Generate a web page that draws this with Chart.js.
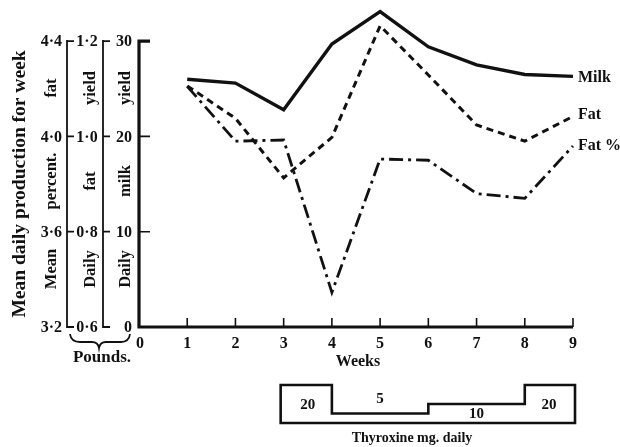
<!DOCTYPE html>
<html><head><meta charset="utf-8">
<script src="https://cdn.jsdelivr.net/npm/chart.js@4"></script>
<style>html,body{margin:0;padding:0;background:#fff}#wrap{width:620px;height:447px}</style>
</head><body><div id="wrap"><canvas id="c" width="620" height="447"></canvas></div>
<script>
const weeks=[1,2,3,4,5,6,7,8,9];
const milkYield=[26.0,25.6,22.8,29.7,33.1,29.4,27.5,26.5,26.3];
const fatYield=[1.106,1.038,0.913,0.998,1.232,1.129,1.024,0.99,1.042];
const fatPercent=[4.21,3.98,3.985,3.345,3.905,3.90,3.76,3.74,3.96];
const xTicks=[0,1,2,3,4,5,6,7,8,9];
const milkTicks=[0,10,20,30];
const fatTicks=[0.6,0.8,1.0,1.2];
const pctTicks=[3.2,3.6,4.0,4.4];
const thyroxineWeeks=[3,4,6,8,9];
const thyroxineDose=[20,5,10,20];
const seriesNames=['Milk','Fat','Fat %'];

const SERIF='"Liberation Serif","DejaVu Serif",serif';
const INK='#111';
const pts=(arr)=>weeks.map((w,i)=>({x:w,y:arr[i]}));
const fmt=(v)=>v.toFixed(1).replace('.','·');

const decor={
  id:'decor',
  beforeDatasetsDraw(chart){
    const ctx=chart.ctx, s=chart.scales;
    const x=s.x, ym=s.yMilk, yf=s.yFat, yp=s.yPct;
    ctx.save();
    ctx.strokeStyle=INK; ctx.lineCap='butt';
    const x0=x.getPixelForValue(0), y0=ym.getPixelForValue(0), yTop=ym.getPixelForValue(30);
    ctx.lineWidth=3.2;
    ctx.beginPath();
    ctx.moveTo(x0+11,yTop); ctx.lineTo(x0,yTop); ctx.lineTo(x0,y0); ctx.lineTo(x.getPixelForValue(9),y0);
    ctx.stroke();
    ctx.lineWidth=1.6;
    ctx.beginPath();
    milkTicks.forEach(v=>{ if(v>0&&v<30){const p=ym.getPixelForValue(v); ctx.moveTo(x0,p); ctx.lineTo(x0+11,p);} });
    xTicks.forEach(v=>{ if(v>0){const p=x.getPixelForValue(v); ctx.moveTo(p,y0); ctx.lineTo(p,y0-9);} });
    ctx.stroke();
    const axX=[67,103];
    ctx.lineWidth=1.8;
    axX.forEach(ax=>{
      ctx.beginPath();
      ctx.moveTo(ax,yTop-1); ctx.lineTo(ax,y0+1); ctx.stroke();
      ctx.beginPath();
      milkTicks.forEach(v=>{const p=ym.getPixelForValue(v); ctx.moveTo(ax,p); ctx.lineTo(ax+7,p);});
      ctx.stroke();
    });
    ctx.fillStyle=INK; ctx.font='bold 16px '+SERIF; ctx.textBaseline='middle';
    ctx.textAlign='right';
    pctTicks.forEach(v=>ctx.fillText(fmt(v),62,yp.getPixelForValue(v)+1));
    milkTicks.forEach(v=>ctx.fillText(String(v),132,ym.getPixelForValue(v)+1));
    ctx.textAlign='center';
    fatTicks.forEach(v=>ctx.fillText(fmt(v),87,yf.getPixelForValue(v)+1));
    xTicks.forEach(v=>ctx.fillText(String(v),x.getPixelForValue(v)+(v===0?1:0),y0+17));
    ctx.restore();
  },
  afterDraw(chart){
    const ctx=chart.ctx, s=chart.scales, x=s.x;
    ctx.save();
    ctx.fillStyle=INK; ctx.strokeStyle=INK;
    ctx.font='bold 16px '+SERIF; ctx.textAlign='left'; ctx.textBaseline='middle';
    const ends=[[s.yMilk,milkYield,1],[s.yFat,fatYield,-2],[s.yPct,fatPercent,0]];
    ends.forEach((e,i)=>{
      const last=weeks.length-1;
      ctx.fillText(seriesNames[i],x.getPixelForValue(weeks[last])+5,e[0].getPixelForValue(e[1][last])+e[2]);
    });
    const vtext=(t,cx,cy,font)=>{ctx.save();ctx.translate(cx,cy);ctx.rotate(-Math.PI/2);ctx.font=font;ctx.textAlign='center';ctx.textBaseline='middle';ctx.fillText(t,0,0);ctx.restore();};
    vtext('Mean daily production for week',20,184,'bold 19.5px '+SERIF);
    const cols=[[52,['fat','percent.','Mean']],[91,['yield','fat','Daily']],[126,['yield','milk','Daily']]];
    const rowsY=[88,181,269];
    cols.forEach(c=>c[1].forEach((w,i)=>vtext(w,c[0],rowsY[i],'bold 16.5px '+SERIF)));
    ctx.lineWidth=1.8;
    ctx.beginPath();
    ctx.moveTo(70,334); ctx.quadraticCurveTo(71,342,80,342); ctx.lineTo(92,342);
    ctx.quadraticCurveTo(98,342,99,348); ctx.quadraticCurveTo(100,342,106,342);
    ctx.lineTo(121,342); ctx.quadraticCurveTo(129,342,130,334);
    ctx.stroke();
    ctx.font='bold 17px '+SERIF; ctx.textAlign='center'; ctx.textBaseline='middle';
    ctx.fillText('Pounds.',102,358);
    ctx.font='bold 16px '+SERIF;
    ctx.fillText('Weeks',358,362);
    const base=423, k=1.9;
    const xs=thyroxineWeeks.map(w=>x.getPixelForValue(w));
    ctx.lineWidth=2.6; ctx.lineJoin='miter';
    ctx.beginPath();
    ctx.moveTo(xs[0]-3,base);
    ctx.lineTo(xs[0]-3,base-thyroxineDose[0]*k);
    thyroxineDose.forEach((d,i)=>{
      const yy=base-d*k;
      if(i>0) ctx.lineTo(xs[i],yy);
      ctx.lineTo(xs[i+1]+(i===thyroxineDose.length-1?2:0),yy);
    });
    ctx.lineTo(xs[xs.length-1]+2,base);
    ctx.closePath();
    ctx.stroke();
    ctx.font='bold 15px '+SERIF;
    thyroxineDose.forEach((d,i)=>{
      const cx=(xs[i]+xs[i+1])/2;
      const h=d*k;
      const cy=h<14?base-h-14:base-h/2+1;
      ctx.fillText(String(d),cx,cy);
    });
    ctx.font='bold 14px '+SERIF;
    ctx.fillText('Thyroxine mg. daily',412,438);
    ctx.restore();
  }
};

new Chart(document.getElementById('c'),{
  type:'line',
  data:{datasets:[
    {label:seriesNames[0],data:pts(milkYield),yAxisID:'yMilk',borderColor:INK,borderWidth:3.4,pointRadius:0,fill:false,tension:0,clip:false},
    {label:seriesNames[1],data:pts(fatYield),yAxisID:'yFat',borderColor:INK,borderWidth:3,borderDash:[7,5],pointRadius:0,fill:false,tension:0,clip:false},
    {label:seriesNames[2],data:pts(fatPercent),yAxisID:'yPct',borderColor:INK,borderWidth:2.8,borderDash:[14,5,3,5],pointRadius:0,fill:false,tension:0,clip:false}
  ]},
  options:{
    responsive:false,devicePixelRatio:1,animation:false,
    layout:{padding:{left:139,right:47,top:3,bottom:120}},
    plugins:{legend:{display:false},tooltip:{enabled:false}},
    scales:{
      x:{type:'linear',min:0,max:9,display:false},
      yMilk:{type:'linear',min:0,max:34,display:false},
      yFat:{type:'linear',min:0.6,max:0.6+34*0.02,display:false},
      yPct:{type:'linear',min:3.2,max:3.2+34*0.04,display:false}
    }
  },
  plugins:[decor]
});
</script>
</body></html>
